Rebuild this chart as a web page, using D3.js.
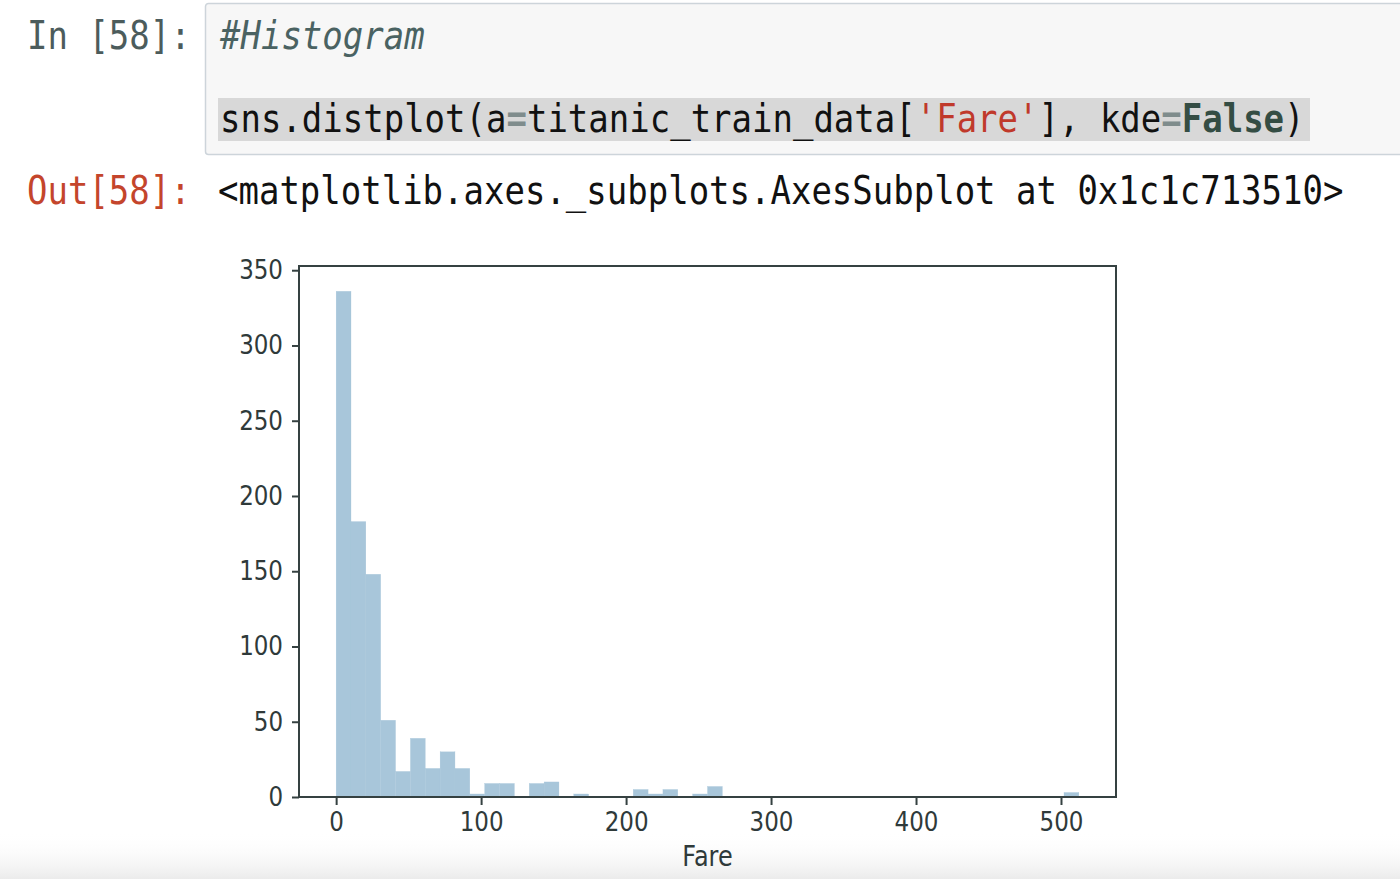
<!DOCTYPE html>
<html>
<head>
<meta charset="utf-8">
<script src="https://cdn.jsdelivr.net/npm/d3@7"></script>
<style>
  html, body { margin: 0; padding: 0; background: #ffffff; }
  svg { display: block; }
</style>
</head>
<body>
<svg id="chart" width="1400" height="879"></svg>
<script>
// ---------- data ----------
const fareMin = 0;
const fareMax = 512.3292;
const binCount = 50;
const binCounts = [336, 183, 148, 51, 17, 39, 19, 30, 19, 2,
                   9, 9, 0, 9, 10, 0, 2, 0, 0, 0,
                   5, 2, 5, 0, 2, 7, 0, 0, 0, 0,
                   0, 0, 0, 0, 0, 0, 0, 0, 0, 0,
                   0, 0, 0, 0, 0, 0, 0, 0, 0, 3];
const xTickValues = [0, 100, 200, 300, 400, 500];
const yTickValues = [0, 50, 100, 150, 200, 250, 300, 350];
const xLabel = "Fare";
const inPrompt = "In [58]:";
const outPrompt = "Out[58]:";
const commentLine = "#Histogram";
const codeParts = [
  {t: "sns.distplot(a", c: "code"},
  {t: "=", c: "op"},
  {t: "titanic_train_data[", c: "code"},
  {t: "'Fare'", c: "str"},
  {t: "], kde", c: "code"},
  {t: "=", c: "op"},
  {t: "False", c: "kw"},
  {t: ")", c: "code"}
];
const outText = "<matplotlib.axes._subplots.AxesSubplot at 0x1c1c713510>";

(function () {
// ---------- drawing ----------
const svg = d3.select("#chart");
const mono = "'DejaVu Sans Mono', monospace";
const sans = "'DejaVu Sans', sans-serif";
const STRETCH = 1.15; // the reference screenshot is slightly stretched vertically

function placeText(x, y) {
  return svg.append("text").attr("transform", `translate(${x},${y}) scale(1,${STRETCH})`);
}

// bottom faint gradient
const defs = svg.append("defs");
const grad = defs.append("linearGradient").attr("id", "fade").attr("x1", 0).attr("y1", 0).attr("x2", 0).attr("y2", 1);
grad.append("stop").attr("offset", "0%").attr("stop-color", "#ffffff").attr("stop-opacity", 0);
grad.append("stop").attr("offset", "100%").attr("stop-color", "#ebebeb").attr("stop-opacity", 1);
svg.append("rect").attr("x", 0).attr("y", 832).attr("width", 1400).attr("height", 47).attr("fill", "url(#fade)");

// notebook input cell
svg.append("rect")
  .attr("x", 205.5).attr("y", 3.5).attr("width", 1260).attr("height", 151)
  .attr("rx", 3).attr("fill", "#f7f7f7").attr("stroke", "#cdd4da").attr("stroke-width", 1.5);

placeText(27, 49)
  .attr("font-family", mono).attr("font-size", 34).attr("fill", "#4c5c5c")
  .text(inPrompt);

placeText(220, 49)
  .attr("font-family", mono).attr("font-size", 34).attr("font-style", "italic").attr("fill", "#4a6262")
  .text(commentLine);

svg.append("rect").attr("x", 218).attr("y", 98).attr("width", 1092).attr("height", 43).attr("fill", "#d8d8d8");

const colors = {code: "#111111", op: "#7f8c8c", str: "#c0392b", kw: "#344d44"};
const codeText = placeText(220, 132)
  .attr("font-family", mono).attr("font-size", 34).attr("xml:space", "preserve");
codeParts.forEach(p => {
  codeText.append("tspan").attr("fill", colors[p.c])
    .attr("font-weight", (p.c === "kw" || p.c === "op") ? "bold" : "normal")
    .text(p.t);
});

placeText(27, 204)
  .attr("font-family", mono).attr("font-size", 34).attr("fill", "#c4452c")
  .text(outPrompt);
placeText(218, 204)
  .attr("font-family", mono).attr("font-size", 34).attr("fill", "#111111")
  .text(outText);

// ---------- histogram ----------
const pLeft = 299, pRight = 1116, pTop = 266, pBottom = 797;
const pad = (fareMax - fareMin) * 0.05;
const x = d3.scaleLinear().domain([fareMin - pad, fareMax + pad]).range([pLeft, pRight]);
const yMax = d3.max(binCounts) * 1.05;
const y = d3.scaleLinear().domain([0, yMax]).range([pBottom, pTop]);

const binWidth = (fareMax - fareMin) / binCount;
const bins = binCounts.map((c, i) => ({x0: fareMin + i * binWidth, x1: fareMin + (i + 1) * binWidth, n: c}));

svg.append("g").selectAll("rect").data(bins.filter(b => b.n > 0)).join("rect")
  .attr("x", d => x(d.x0))
  .attr("width", d => x(d.x1) - x(d.x0))
  .attr("y", d => y(d.n))
  .attr("height", d => y(0) - y(d.n))
  .attr("fill", "#a8c6da")
  .attr("stroke", "#a8c6da").attr("stroke-width", 0.3);

const axisColor = "#354141";
const textColor = "#2f3a3a";

const xAxis = svg.append("g").attr("transform", `translate(0,${pBottom})`)
  .call(d3.axisBottom(x).tickValues(xTickValues).tickSize(8).tickPadding(5).tickFormat(d3.format("d")));
const yAxis = svg.append("g").attr("transform", `translate(${pLeft},0)`)
  .call(d3.axisLeft(y).tickValues(yTickValues).tickSize(7).tickPadding(9).tickFormat(d3.format("d")));

[xAxis, yAxis].forEach(g => {
  g.select(".domain").remove();
  g.selectAll(".tick line").attr("stroke", axisColor).attr("stroke-width", 2);
  g.selectAll(".tick text").attr("fill", textColor).attr("font-family", sans).attr("font-size", 23)
    .attr("transform", `scale(1,${STRETCH})`);
});

// frame (spines)
svg.append("rect").attr("x", pLeft).attr("y", pTop).attr("width", pRight - pLeft).attr("height", pBottom - pTop)
  .attr("fill", "none").attr("stroke", axisColor).attr("stroke-width", 2);

placeText((pLeft + pRight) / 2, 866)
  .attr("text-anchor", "middle").attr("font-family", sans).attr("font-size", 24).attr("fill", textColor)
  .text(xLabel);
})();
</script>
</body>
</html>
